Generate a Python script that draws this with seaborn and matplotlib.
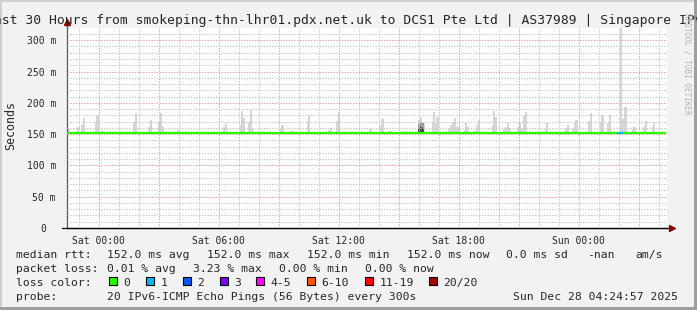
import numpy as np
import pandas as pd
import matplotlib
matplotlib.use("Agg")
import matplotlib.pyplot as plt
import matplotlib.transforms as mtransforms
from matplotlib.patches import Rectangle
import seaborn as sns

# ---------------- data ----------------
title = "Last 30 Hours from smokeping-thn-lhr01.pdx.net.uk to DCS1 Pte Ltd | AS37989 | Singapore IPv6"
median_rtt = 152.0
t_start, t_end = -1.584, 28.416          # hours relative to Sat 00:00
line_end = 28.32

smoke_times = [-1.49, -1.04, -0.81, -0.74, -0.14, -0.06, 0.17, 1.77, 1.87, 2.52, 2.62,
               3.02, 3.12, 3.22, 3.62, 3.99, 6.27, 6.37, 7.12, 7.17, 7.27, 7.52, 7.62,
               7.69, 9.12, 9.19, 9.64, 10.47, 10.52, 11.54, 11.62, 11.94, 12.02, 13.59,
               14.12, 14.19, 14.59, 15.37, 16.02, 16.12, 16.24, 16.49, 16.72, 16.77,
               16.87, 16.94, 17.52, 17.62, 17.72, 17.82, 17.92, 18.02, 18.32, 18.37,
               18.44, 18.79, 18.92, 19.02, 19.72, 19.77, 19.87, 20.27, 20.37, 20.47,
               20.57, 20.97, 21.07, 21.17, 21.27, 21.37, 22.37, 22.42, 23.37, 23.47,
               23.72, 23.82, 23.89, 24.52, 24.62, 25.12, 25.19, 25.47, 25.57, 26.12,
               26.22, 26.34, 26.72, 26.79, 27.27, 27.37, 27.72, 27.77, 28.12]
smoke_tops = [158, 161, 164, 176, 170, 179, 155, 170, 184, 162, 172,
              170, 184, 162, 154, 156, 161, 166, 164, 187, 175, 170, 189,
              158, 158, 165, 155, 169, 181, 156, 160, 171, 185, 158,
              164, 174, 155, 155, 172, 177, 168, 154, 170, 185,
              166, 177, 158, 164, 169, 176, 162, 162, 156, 168,
              161, 155, 164, 172, 164, 187, 177, 158, 162, 168,
              160, 162, 168, 158, 179, 185, 158, 168, 160, 164,
              158, 168, 172, 171, 183, 168, 181, 168, 181, 319,
              174, 193, 158, 162, 162, 171, 162, 170, 154]
dark_times = [16.02, 16.12, 16.22]
dark_tops = [159, 162, 160]
mid_tops = [166, 170, 167]
loss_seg = [25.97, 26.17]                 # interval with 1 lost ping

xtick_hours = [0, 6, 12, 18, 24]
xtick_labels = ["Sat 00:00", "Sat 06:00", "Sat 12:00", "Sat 18:00", "Sun 00:00"]
ytick_values = [0, 50, 100, 150, 200, 250, 300]
ytick_labels = ["0", "50 m", "100 m", "150 m", "200 m", "250 m", "300 m"]

loss_labels = ["0", "1", "2", "3", "4-5", "6-10", "11-19", "20/20"]
loss_colors = ["#26ff00", "#00b8ff", "#0059ff", "#7e00ff", "#ff00ff", "#ff5500", "#ff0000", "#a10000"]

stats_rtt = ["median rtt:", "152.0 ms avg", "152.0 ms max", "152.0 ms min", "152.0 ms now",
             "0.0 ms sd", "-nan", "am/s"]
stats_loss = ["packet loss:", "0.01 % avg", "3.23 % max", "0.00 % min", "0.00 % now"]
probe_text = ["probe:", "20 IPv6-ICMP Echo Pings (56 Bytes) every 300s", "Sun Dec 28 04:24:57 2025"]

# ---------------- style ----------------
sns.set_style("white")
MONO = ["DejaVu Sans Mono"]
plt.rcParams["font.family"] = MONO

W, H = 697, 310
fig = plt.figure(figsize=(W / 100, H / 100), dpi=100, facecolor="#F2F2F2")

def fx(px):
    return px / W

def fy(py):
    return 1 - py / H

ax = fig.add_axes([fx(67), fy(228), 600 / W, 200 / H])
ax.set_facecolor("white")

# smoke
ax.bar(smoke_times, np.array(smoke_tops) - median_rtt, bottom=median_rtt, width=0.12,
       color="#d6d6d6", linewidth=0, zorder=1)
ax.bar(dark_times, np.array(mid_tops) - median_rtt, bottom=median_rtt, width=0.12,
       color="#9a9a9a", linewidth=0, zorder=1.1)
ax.bar(dark_times, np.array(dark_tops) - median_rtt, bottom=median_rtt, width=0.12,
       color="#4a4a4a", linewidth=0, zorder=1.2)

# median line coloured by loss
df_all = pd.DataFrame({"t": [t_start, line_end], "rtt": [median_rtt, median_rtt]})
sns.lineplot(data=df_all, x="t", y="rtt", color=loss_colors[0], lw=1.6, ax=ax, zorder=3)
df_loss = pd.DataFrame({"t": loss_seg, "rtt": [median_rtt, median_rtt]})
sns.lineplot(data=df_loss, x="t", y="rtt", color=loss_colors[1], lw=1.6, ax=ax, zorder=3.1)

ax.set_xlim(t_start, t_end)
ax.set_ylim(0, 319.5)
ax.set_xlabel("")
ax.set_ylabel("")

# ticks & grid
major_x = np.arange(0, 28, 3)
ax.set_xticks(major_x)
ax.set_xticklabels([xtick_labels[xtick_hours.index(h)] if h in xtick_hours else "" for h in major_x])
ax.set_xticks(np.arange(-1, 29, 1), minor=True)
ax.set_yticks(ytick_values)
ax.set_yticklabels(ytick_labels)
ax.set_yticks(np.arange(0, 320, 10), minor=True)

ax.set_axisbelow(False)
ax.grid(which="minor", color="#c8c8c8", lw=0.72, ls=(0, (1.4, 1.4)))
ax.grid(which="major", color="#e8a4a4", lw=0.72, ls=(0, (1.4, 1.4)))
ax.tick_params(axis="x", which="major", direction="out", length=3, width=0.7, color="#e08080",
               labelsize=7, pad=3)
ax.tick_params(axis="x", which="minor", direction="out", length=2, width=0.7, color="#bbbbbb")
ax.tick_params(axis="y", which="both", direction="out", length=3, width=0.7, color="#999999",
               labelsize=7, pad=5)
for lab in ax.get_yticklabels():
    if lab.get_text() == "0":
        lab.set_transform(lab.get_transform() +
                          mtransforms.ScaledTranslation(-9.5 / 100, 0, fig.dpi_scale_trans))

for s in ["top", "right"]:
    ax.spines[s].set_visible(False)
ax.spines["left"].set_color("#555555")
ax.spines["left"].set_linewidth(0.9)
ax.spines["bottom"].set_color("black")
ax.spines["bottom"].set_linewidth(0.9)

# axis extensions with arrows
ax.plot([0, 0], [1, 1.03], transform=ax.transAxes, color="#555555", lw=0.9, clip_on=False)
ax.plot([0], [1.03], transform=ax.transAxes, marker="^", ms=4, color="#8b0000", clip_on=False)
ax.plot([-5 / 600, 1.008], [0, 0], transform=ax.transAxes, color="black", lw=0.9, clip_on=False)
ax.plot([1.008], [0], transform=ax.transAxes, marker=">", ms=4, color="#8b0000", clip_on=False)

# texts
fig.text(0.5, fy(24), title, ha="center", va="baseline", fontsize=9.4, family=MONO)
fig.text(fx(11), fy(126), "Seconds", rotation=90, ha="center", va="center", fontsize=8.4, family=MONO)
fig.text(fx(687), fy(64), "RRDTOOL / TOBI OETIKER", rotation=270, ha="center", va="center",
         fontsize=5.5, color="#b5b5b5", family=MONO)

LFS = 8.2
row_base = [258, 272, 286, 299.5]
rtt_x = [16, 107, 207, 307, 407, 506, 587, 635]
for txt, x in zip(stats_rtt, rtt_x):
    fig.text(fx(x), fy(row_base[0]), txt, fontsize=LFS, va="baseline", family=MONO)
loss_x = [16, 107, 193, 279, 365]
for txt, x in zip(stats_loss, loss_x):
    fig.text(fx(x), fy(row_base[1]), txt, fontsize=LFS, va="baseline", family=MONO)
fig.text(fx(16), fy(row_base[2]), "loss color:", fontsize=LFS, va="baseline", family=MONO)
box_x = [109, 146, 183, 220, 256, 307, 365, 429]
for lab, col, bx in zip(loss_labels, loss_colors, box_x):
    fig.patches.append(Rectangle((fx(bx), fy(284.5)), 8 / W, 8 / H, transform=fig.transFigure,
                                 facecolor=col, edgecolor="black", lw=0.8))
    fig.text(fx(bx + 14.5), fy(row_base[2]), lab, fontsize=LFS, va="baseline", family=MONO)
probe_x = [16, 107, 513]
for txt, x in zip(probe_text, probe_x):
    fig.text(fx(x), fy(row_base[3]), txt, fontsize=LFS, va="baseline", family=MONO)

# frame shading
fig.patches.append(Rectangle((0, fy(2)), 1, 2 / H, transform=fig.transFigure, color="#cfcfcf", lw=0))
fig.patches.append(Rectangle((0, 0), 2 / W, 1, transform=fig.transFigure, color="#cfcfcf", lw=0))
fig.patches.append(Rectangle((0, 0), 1, 3 / H, transform=fig.transFigure, color="#9e9e9e", lw=0))
fig.patches.append(Rectangle((fx(694), 0), 3 / W, 1, transform=fig.transFigure, color="#9e9e9e", lw=0))

fig.savefig("out.png", dpi=100, facecolor=fig.get_facecolor())
